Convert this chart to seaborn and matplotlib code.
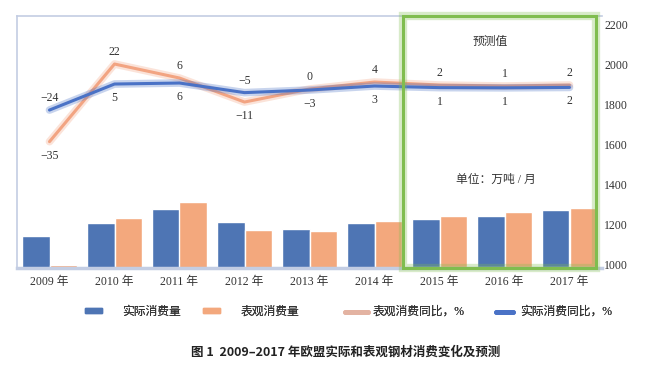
import numpy as np
import pandas as pd
import matplotlib.pyplot as plt
import seaborn as sns
from matplotlib.patches import Patch, Rectangle
from matplotlib.lines import Line2D
from matplotlib.transforms import ScaledTranslation

years = ['2009 年', '2010 年', '2011 年', '2012 年', '2013 年', '2014 年', '2015 年', '2016 年', '2017 年']
# monthly consumption, 万吨/月 (right axis)
actual = [1160, 1224, 1295, 1230, 1195, 1225, 1242, 1260, 1288]
apparent = [1015, 1247, 1330, 1187, 1183, 1232, 1260, 1277, 1297]
# year-on-year lines as drawn in the chart, and their % labels
actual_line = [1788, 1918, 1923, 1875, 1888, 1908, 1900, 1899, 1901]
apparent_line = [1630, 2018, 1948, 1828, 1893, 1928, 1913, 1908, 1913]
actual_yoy = [-24, 5, 6, -5, -3, 3, 1, 1, 2]
apparent_yoy = [-35, 22, 6, -11, 0, 4, 2, 1, 2]

BLUE = '#4e75b4'
ORANGE = '#f3a87d'
LBLUE = '#4a72c6'
LORANGE = '#f2a482'
GREEN = '#80bd4f'
SPINE = '#c3cde3'
TXT = '#333333'

sns.set_theme(style='white')
plt.rcParams['font.family'] = ['Liberation Serif', 'Noto Sans CJK SC', 'DejaVu Sans']
plt.rcParams['axes.unicode_minus'] = True

df = pd.DataFrame({
    'year': years * 2,
    'value': actual + apparent,
    'series': ['实际消费量'] * 9 + ['表观消费量'] * 9,
})

fig = plt.figure(figsize=(6.54, 3.68), dpi=100)
ax = fig.add_axes([17 / 654, 1 - 267.7 / 368, (602 - 17) / 654, (267.7 - 16) / 368])

sns.barplot(data=df, x='year', y='value', hue='series', palette=[BLUE, ORANGE],
            width=0.86, saturation=1, legend=False, ax=ax)

x = np.arange(len(years))
for vals, col in [(apparent_line, LORANGE), (actual_line, LBLUE)]:
    sns.lineplot(x=x, y=vals, color=col, lw=5.5, alpha=0.3, ax=ax)
    sns.lineplot(x=x, y=vals, color=col, lw=2.2, ax=ax)

# percent labels: higher line gets its label above, lower below
for i in range(len(years)):
    o_up = apparent_line[i] >= actual_line[i]
    for val, lab, up in [(apparent_line[i], apparent_yoy[i], o_up),
                         (actual_line[i], actual_yoy[i], not o_up)]:
        txt = f'{lab}'.replace('-', '\u2212')
        ax.annotate(txt, (i, val), xytext=(0, 8.5 if up else -10), textcoords='offset points',
                    ha='center', va='center', fontsize=8.5, color=TXT)

ax.set_xlim(-0.5, 8.5)
ax.set_ylim(1000, 2258)
ax.set_yticks(range(1000, 2201, 200))
ax.yaxis.tick_right()
ax.tick_params(axis='y', length=0, labelsize=8.5, labelcolor=TXT, pad=1.5)
ax.tick_params(axis='x', length=0, labelsize=8.5, labelcolor=TXT, pad=6)
ax.set_xticks(np.arange(-0.5, 9, 1), minor=True)
ax.tick_params(axis='x', which='minor', length=3, color=SPINE, width=1)
ax.set_xlabel('')
ax.set_ylabel('')
shift = ScaledTranslation(0, 0.035, fig.dpi_scale_trans)
for lbl in ax.get_yticklabels():
    lbl.set_transform(lbl.get_transform() + shift)

for s in ['left', 'top']:
    ax.spines[s].set_color(SPINE)
    ax.spines[s].set_linewidth(1.2)
ax.spines['right'].set_visible(False)
ax.spines['bottom'].set_color(SPINE)
ax.spines['bottom'].set_linewidth(2.5)

# forecast box
x0 = -0.5 + (403 - 17) / 65
x1 = -0.5 + (596 - 17) / 65
for lw, a in [(6, 0.3), (2.2, 1)]:
    ax.add_patch(Rectangle((x0, 1000), x1 - x0, 1258, fill=False, ec=GREEN, lw=lw, alpha=a,
                           clip_on=False, zorder=5))
ax.text((x0 + x1) / 2 - 0.15, 2128, '预测值', ha='center', va='center', fontsize=8.5, color=TXT)
ax.text((x0 + x1) / 2 - 0.05, 1440, '单位：万吨 / 月', ha='center', va='center', fontsize=8.5, color=TXT)

# legend entries placed one by one, like the spread-out original
entries = [
    (Patch(color=BLUE, label='实际消费量'), 85, 1.45, 1.7),
    (Patch(color=ORANGE, label='表观消费量'), 203, 1.45, 1.7),
    (Line2D([], [], color='#e3b3a2', lw=3.5, label='表观消费同比，%'), 345, 1.95, 0.35),
    (Line2D([], [], color=LBLUE, lw=3.5, label='实际消费同比，%'), 496, 1.45, 0.6),
]
for h, px, hl, tp in entries:
    lg = fig.legend(handles=[h], loc='center left', bbox_to_anchor=(px / 654, 1 - 312 / 368),
                    frameon=False, fontsize=8.5, handlelength=hl, handleheight=0.32,
                    handletextpad=tp, borderpad=0, borderaxespad=0, labelcolor=TXT)
    fig.add_artist(lg)

fig.text(346 / 654, 1 - 352 / 368, '图 1  2009–2017 年欧盟实际和表观钢材消费变化及预测', ha='center', va='center',
         fontsize=9, fontweight='bold', color='#222222', family=['Noto Sans CJK SC', 'DejaVu Sans'])

fig.savefig('out.png', dpi=100, facecolor='white')
